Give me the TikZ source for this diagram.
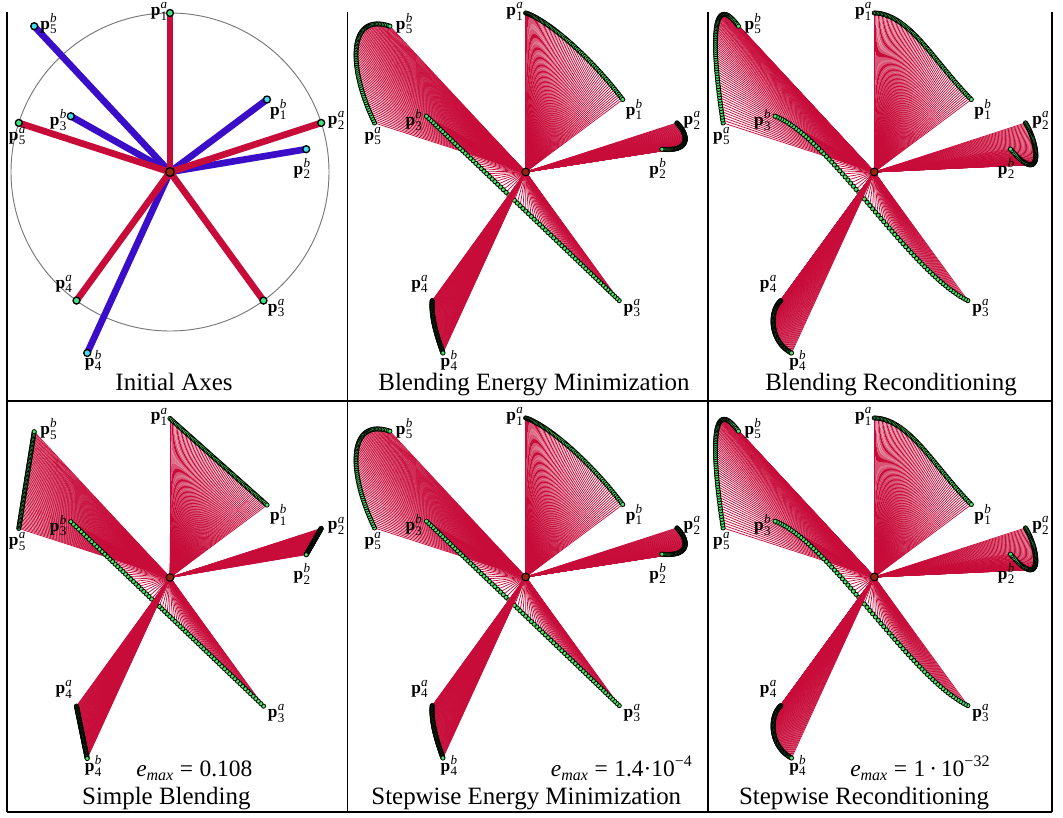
\documentclass[tikz,border=0pt]{standalone}
\usepackage{fontspec}
\setmainfont{Liberation Serif}
\usetikzlibrary{calc}
\definecolor{axred}{RGB}{200,12,58}
\definecolor{axblue}{RGB}{58,14,200}
\definecolor{dotgreen}{RGB}{70,235,95}
\definecolor{agreen}{RGB}{64,226,128}
\definecolor{bcyan}{RGB}{64,222,240}
\definecolor{ctrbrown}{RGB}{150,36,16}
\definecolor{circgray}{RGB}{120,120,120}
\newcommand{\plab}[2]{\textbf{p}\kern0.2pt\raisebox{-3.4pt}{\vbox{\fontsize{9.8}{8.6}\selectfont\hbox{\textit{#2}}\hbox{#1}}}}
\newcommand{\emx}{\textit{e}\raisebox{-3.5pt}{\fontsize{12}{12}\selectfont\textit{max}}\hspace{4.9pt}=\hspace{4.9pt}}
\newcommand{\NN}{74}
\newcommand{\defpts}{%
 \coordinate (O) at (0,0);
 \coordinate (a1) at (0,-159);
 \coordinate (a2) at (151.2,-49.1);
 \coordinate (a3) at (93.5,128.6);
 \coordinate (a4) at (-93.5,128.6);
 \coordinate (a5) at (-151.2,-49.1);
 \coordinate (b1) at (97,-72.5);
 \coordinate (b2) at (136.2,-22.8);
 \coordinate (b3) at (-99.2,-55.8);
 \coordinate (b4) at (-82.8,181);
 \coordinate (b5) at (-135.8,-145.8);
}
\newcommand{\alllabels}{%
 \node[plabel] (la1) at ($(a1)+(-11,-1.8)$) {\plab{1}{a}};
 \node[plabel] (la2) at ($(a2)+(15,-2.7)$) {\plab{2}{a}};
 \node[plabel] (la3) at ($(a3)+(12.7,7.3)$) {\plab{3}{a}};
 \node[plabel] (la4) at ($(a4)+(-12.7,-16.7)$) {\plab{4}{a}};
 \node[plabel] (la5) at ($(a5)+(-1.7,13.3)$) {\plab{5}{a}};
 \node[plabel] (lb1) at ($(b1)+(11.3,10)$) {\plab{1}{b}};
 \node[plabel] (lb2) at ($(b2)+(-4.3,19.3)$) {\plab{2}{b}};
 \node[plabel] (lb3) at ($(b3)+(-12.7,4)$) {\plab{3}{b}};
 \node[plabel] (lb4) at ($(b4)+(6,7.3)$) {\plab{4}{b}};
 \node[plabel] (lb5) at ($(b5)+(14.3,-2.7)$) {\plab{5}{b}};
}
\newcommand{\blend}[1]{%
 \foreach \k in {0,...,\NN}{\path #1 coordinate[pos=\k/\NN] (q\k);}
 \foreach \k in {0,...,\NN}{\draw[fanline] (O) -- (q\k);}
 \foreach \k in {0,...,\NN}{\path[curvedot] (q\k) circle[radius=1.6pt];}
}
\newcommand{\centerdot}{\path[ctr] (O) circle[radius=2.9pt];}
\newcommand{\panelLin}{%
 \defpts
 \blend{(a1) -- (b1)}
 \blend{(a2) -- (b2)}
 \blend{(a5) -- (b5)}
 \blend{(a3) -- (b3)}
 \blend{(a4) -- (b4)}
 \alllabels
 \centerdot
}
\newcommand{\panelEn}{%
 \defpts
 \blend{(a1) .. controls (22,-152) and (65,-115) .. (b1)}
 \blend{(a2) .. controls (164,-36) and (164,-20) .. (b2)}
 \blend{(a5) .. controls (-178,-105) and (-178,-160) .. (b5)}
 \blend{(a3) .. controls (39.5,77) and (-45.2,-4.2) .. (b3)}
 \blend{(a4) .. controls (-95,146) and (-88,166) .. (b4)}
 \alllabels
 \centerdot
}
\newcommand{\panelRc}{%
 \defpts
 \blend{(a1) .. controls (35,-158) and (60,-110) .. (b1)}
 \blend{(a2) .. controls (166,-25) and (168,15) .. (b2)}
 \blend{(a5) .. controls (-162,-120) and (-165,-185) .. (b5)}
 \blend{(a3) .. controls (35,100) and (-45,-35) .. (b3)}
 \blend{(a4) .. controls (-106,140) and (-104,170) .. (b4)}
 \alllabels
 \centerdot
}
\begin{document}
\begin{tikzpicture}[x=0.75pt,y=-0.75pt,
 border/.style={line width=1pt, black},
 fanline/.style={axred, line width=0.55pt},
 curvedot/.style={fill=dotgreen, draw=black, line width=0.6pt},
 plabel/.style={inner sep=0pt, font=\fontsize{13}{13}\selectfont},
 caption/.style={anchor=base, inner sep=0pt, font=\fontsize{18.7}{20}\selectfont},
 emax/.style={anchor=base west, inner sep=0pt, font=\fontsize{17.6}{20}\selectfont},
 ctr/.style={fill=ctrbrown, draw=black, line width=0.8pt},
 ctrbig/.style={fill=ctrbrown, draw=black, line width=1pt},
 thickred/.style={axred, line width=5pt},
 thickblue/.style={axblue, line width=5pt},
 adot/.style={fill=agreen, draw=black, line width=1pt},
 bdot/.style={fill=bcyan, draw=black, line width=1pt}]
\useasboundingbox (0,0) rectangle (1063,817);
\fill[white] (0,0) rectangle (1063,817);
% panel 1: initial axes
\begin{scope}[shift={(170,172)}]
 \defpts
 \draw[circgray, line width=0.7pt] (O) circle[radius=119.25pt];
 \foreach \i in {1,...,5}{\draw[thickblue] (O) -- (b\i);}
 \foreach \i in {1,...,5}{\draw[thickred] (O) -- (a\i);}
 \alllabels
 \foreach \i in {1,...,5}{\path[adot] (a\i) circle[radius=2.6pt];}
 \foreach \i in {1,...,5}{\path[bdot] (b\i) circle[radius=2.6pt];}
 \path[ctrbig] (O) circle[radius=3.3pt];
\end{scope}
\begin{scope}[shift={(525.7,172)}]\panelEn\end{scope}
\begin{scope}[shift={(874.3,172)}]\panelRc\end{scope}
\begin{scope}[shift={(170,577.5)}]\panelLin\end{scope}
\begin{scope}[shift={(525.7,577)}]\panelEn\end{scope}
\begin{scope}[shift={(874.3,577)}]\panelRc\end{scope}
% borders
\draw[border] (7,12) -- (7,812);
\draw[border] (347.5,12) -- (347.5,812);
\draw[border] (708,12) -- (708,812);
\draw[border] (1052,12) -- (1052,812);
\draw[border] (7,401) -- (1052,401);
\draw[border] (7,812) -- (1052,812);
% captions
\node[caption] (c1) at (174,390) {Initial Axes};
\node[caption] (c2) at (534,390) {Blending Energy Minimization};
\node[caption] (c3) at (891,390) {Blending Reconditioning};
\node[caption] (c4) at (166.3,804) {Simple Blending};
\node[caption] (c5) at (526.3,804) {Stepwise Energy Minimization};
\node[caption] (c6) at (864,804) {Stepwise Reconditioning};
\node[emax] (e4) at (136,776) {\emx 0.108};
\node[emax] (e5) at (550.7,776) {\emx 1.4·10\raisebox{7pt}{\fontsize{12}{12}\selectfont −4}};
\node[emax] (e6) at (850,776) {\emx 1\,·\,10\raisebox{7pt}{\fontsize{12}{12}\selectfont −32}};
\end{tikzpicture}
\end{document}
